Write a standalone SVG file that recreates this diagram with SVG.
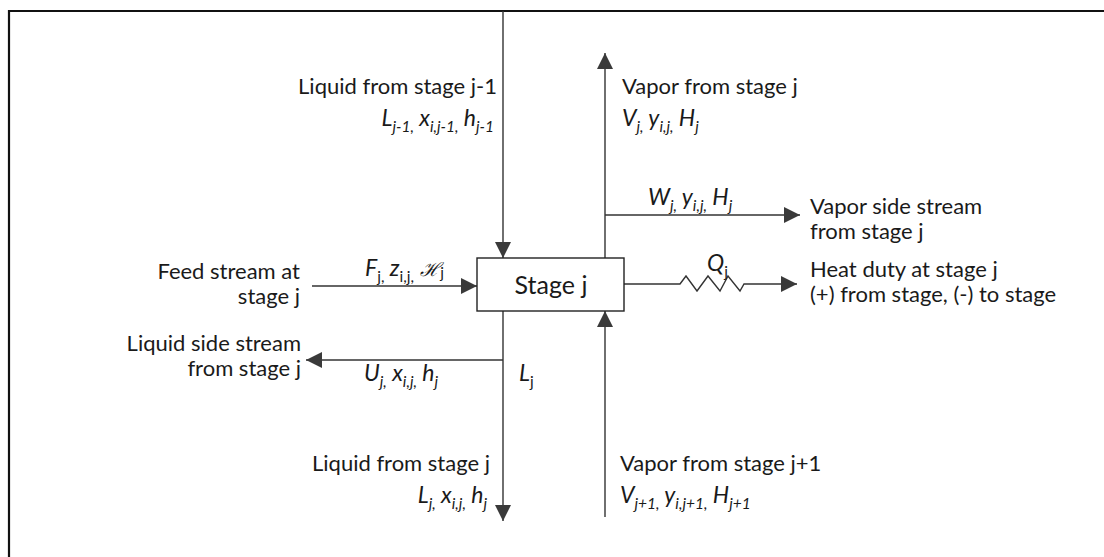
<svg xmlns="http://www.w3.org/2000/svg" width="1104" height="557" viewBox="0 0 1104 557">
<style>
  text { font-family: Lato, "Liberation Sans", sans-serif; font-size: 22px; fill: #1a1a1a; }
  .it { font-style: italic; font-size: 23px; }
  .sub { font-size: 15.5px; }
  .up { font-style: normal; }
  .conn { stroke: #333; stroke-width: 1.4; fill: none; }
  .frame { stroke: #111; stroke-width: 2.2; fill: none; }
</style>
<defs>
  <marker id="ah" markerUnits="userSpaceOnUse" markerWidth="18" markerHeight="16" refX="16" refY="8" orient="auto">
    <path d="M0,0 L16,8 L0,16 Z" fill="#3a3a3a"/>
  </marker>
</defs>
<rect width="1104" height="557" fill="#fff"/>
<path class="frame" d="M9,557 V11 H1104"/>

<g id="connectors">
  <line class="conn" x1="503" y1="11" x2="503" y2="258" marker-end="url(#ah)"/>
  <line class="conn" x1="605" y1="258" x2="605" y2="53" marker-end="url(#ah)"/>
  <line class="conn" x1="605" y1="215" x2="800" y2="215" marker-end="url(#ah)"/>
  <polyline class="conn" points="624,284 680,284 686,276 697,291 708,276 720,291 728,276 740,291 744,284 797,284" marker-end="url(#ah)"/>
  <line class="conn" x1="312" y1="286" x2="477" y2="286" marker-end="url(#ah)"/>
  <line class="conn" x1="503" y1="360" x2="306" y2="360" marker-end="url(#ah)"/>
  <line class="conn" x1="503" y1="311" x2="503" y2="521" marker-end="url(#ah)"/>
  <line class="conn" x1="605" y1="517" x2="605" y2="311" marker-end="url(#ah)"/>
</g>

<g id="stage">
  <rect x="477" y="258" width="147" height="53" fill="#fff" stroke="#222" stroke-width="1.4"/>
  <text x="551" y="294" text-anchor="middle" style="font-size:25px">Stage j</text>
</g>

<g id="liquid-in">
  <text x="497" y="94" text-anchor="end">Liquid from stage j-1</text>
  <text class="it" x="494" y="126" text-anchor="end">L<tspan class="sub" dy="6">j-1,</tspan><tspan dy="-6"> x</tspan><tspan class="sub" dy="6">i,j-1,</tspan><tspan dy="-6"> h</tspan><tspan class="sub" dy="6">j-1</tspan></text>
</g>

<g id="vapor-out">
  <text x="622" y="94">Vapor from stage j</text>
  <text class="it" x="622" y="126">V<tspan class="sub" dy="6">j,</tspan><tspan dy="-6"> y</tspan><tspan class="sub" dy="6">i,j,</tspan><tspan dy="-6"> H</tspan><tspan class="sub" dy="6">j</tspan></text>
</g>

<g id="vapor-side">
  <text class="it" x="648" y="205">W<tspan class="sub" dy="6">j,</tspan><tspan dy="-6"> y</tspan><tspan class="sub" dy="6">i,j,</tspan><tspan dy="-6"> H</tspan><tspan class="sub" dy="6">j</tspan></text>
  <text x="810" y="214">Vapor side stream</text>
  <text x="810" y="239">from stage j</text>
</g>

<g id="heat">
  <text class="it" x="707" y="271">Q<tspan class="sub up" dy="6">j</tspan></text>
  <text x="810" y="277">Heat duty at stage j</text>
  <text x="810" y="302">(+) from stage, (-) to stage</text>
</g>

<g id="feed">
  <text x="300" y="279" text-anchor="end">Feed stream at</text>
  <text x="300" y="304" text-anchor="end">stage j</text>
  <text class="it" x="365" y="276">F<tspan class="sub up" dy="6">j,</tspan><tspan dy="-6"> z</tspan><tspan class="sub up" dy="6">i,j,</tspan><tspan dy="-6" style="font-family:'DejaVu Serif',serif;font-size:19px"> ℋ</tspan><tspan class="sub up" dy="2">j</tspan></text>
</g>

<g id="liquid-side">
  <text x="301" y="351" text-anchor="end">Liquid side stream</text>
  <text x="301" y="376" text-anchor="end">from stage j</text>
  <text class="it" x="364" y="381">U<tspan class="sub" dy="6">j,</tspan><tspan dy="-6"> x</tspan><tspan class="sub" dy="6">i,j,</tspan><tspan dy="-6"> h</tspan><tspan class="sub" dy="6">j</tspan></text>
  <text class="it" x="519" y="381">L<tspan class="sub up" dy="6">j</tspan></text>
</g>

<g id="liquid-out">
  <text x="490" y="471" text-anchor="end">Liquid from stage j</text>
  <text class="it" x="487" y="503" text-anchor="end">L<tspan class="sub" dy="6">j,</tspan><tspan dy="-6"> x</tspan><tspan class="sub" dy="6">i,j,</tspan><tspan dy="-6"> h</tspan><tspan class="sub" dy="6">j</tspan></text>
</g>

<g id="vapor-in">
  <text x="620" y="471">Vapor from stage j+1</text>
  <text class="it" x="620" y="503">V<tspan class="sub" dy="6">j+1,</tspan><tspan dy="-6"> y</tspan><tspan class="sub" dy="6">i,j+1,</tspan><tspan dy="-6"> H</tspan><tspan class="sub" dy="6">j+1</tspan></text>
</g>
</svg>
